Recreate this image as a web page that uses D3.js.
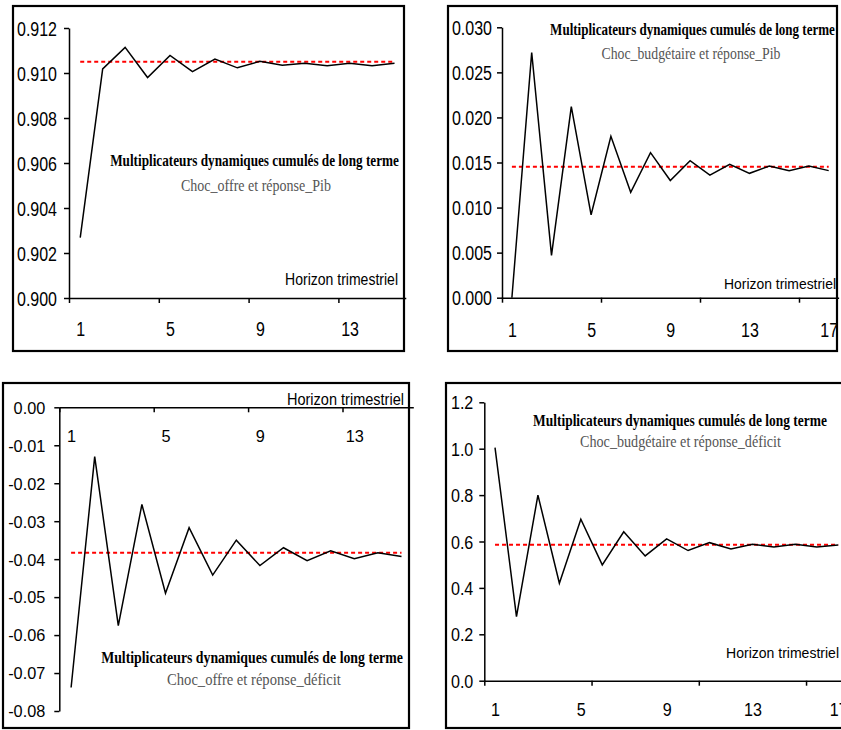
<!DOCTYPE html>
<html>
<head>
<meta charset="utf-8">
<script src="https://cdn.jsdelivr.net/npm/d3@7"></script>
<style>
  html, body { margin: 0; padding: 0; background: #fff; }
  svg { display: block; }
</style>
</head>
<body>
<svg id="chart" width="841" height="730"></svg>
<script>
// ---------------- DATA ----------------
const categories15 = [1, 2, 3, 4, 5, 6, 7, 8, 9, 10, 11, 12, 13, 14, 15];
const categories17 = [1, 2, 3, 4, 5, 6, 7, 8, 9, 10, 11, 12, 13, 14, 15, 16, 17];
const xLabels15 = [1, 5, 9, 13];
const xLabels17 = [1, 5, 9, 13, 17];
const xTickMarks15 = [0.5, 4.5, 8.5, 12.5];
const xTickMarks17 = [0.5, 5.5, 10.5, 15.5];

// Choc_offre et réponse_Pib
const pibOffre = [0.90268, 0.91018, 0.91114, 0.90980, 0.91078, 0.91006, 0.91062, 0.91023,
                  0.91052, 0.91034, 0.91043, 0.91032, 0.91043, 0.91032, 0.91043];
const pibOffreLT = 0.9105;
const yTicksPibOffre = [0.900, 0.902, 0.904, 0.906, 0.908, 0.910, 0.912];

// Choc_budgétaire et réponse_Pib
const pibBudget = [0.0000, 0.0272, 0.0047, 0.0212, 0.0092, 0.0179, 0.0117, 0.0161, 0.0130,
                   0.0152, 0.0136, 0.0148, 0.0138, 0.0146, 0.0141, 0.0146, 0.0141];
const pibBudgetLT = 0.01454;
const yTicksPibBudget = [0.000, 0.005, 0.010, 0.015, 0.020, 0.025, 0.030];

// Choc_offre et réponse_déficit
const defOffre = [-0.0738, -0.0130, -0.0575, -0.0256, -0.0490, -0.0317, -0.0442, -0.0350,
                  -0.0417, -0.0370, -0.0404, -0.0378, -0.0399, -0.0383, -0.0393];
const defOffreLT = -0.0383;
const yTicksDefOffre = [0.00, -0.01, -0.02, -0.03, -0.04, -0.05, -0.06, -0.07, -0.08];

// Choc_budgétaire et réponse_déficit
const defBudget = [1.005, 0.276, 0.800, 0.420, 0.696, 0.499, 0.642, 0.538, 0.611,
                   0.561, 0.595, 0.568, 0.588, 0.576, 0.588, 0.576, 0.585];
const defBudgetLT = 0.586;
const yTicksDefBudget = [0.0, 0.2, 0.4, 0.6, 0.8, 1.0, 1.2];

const titleText = "Multiplicateurs dynamiques cumulés de long terme";
const horizonText = "Horizon trimestriel";

// ---------------- LAYOUT / STYLE ----------------
const panels = [
  { cats: categories15, values: pibOffre, lt: pibOffreLT, yTicks: yTicksPibOffre, yDomain: [0.900, 0.912],
    xLabels: xLabels15, xMarks: xTickMarks15, dec: 3, sub: "Choc_offre et réponse_Pib",
    frame: [13, 6, 391, 345], left: 69, step: 22.45, yRange: [298, 28], axisY: 298, xLabelDy: 38,
    font: 19.5, sx: 0.82, gap: 12,
    title: { cx: 254.5, y: 165.5, w: 289 }, subt: { cx: 256, y: 190.5, w: 150 },
    hor: { right: 398, y: 285, w: 113, size: 17 } },
  { cats: categories17, values: pibBudget, lt: pibBudgetLT, yTicks: yTicksPibBudget, yDomain: [0, 0.030],
    xLabels: xLabels17, xMarks: xTickMarks17, dec: 3, sub: "Choc_budgétaire et réponse_Pib",
    frame: [448, 6, 389, 345], left: 502, step: 19.8, yRange: [297.7, 27.3], axisY: 297.7, xLabelDy: 39,
    font: 20, sx: 0.8, gap: 10,
    title: { cx: 692.5, y: 35, w: 285 }, subt: { cx: 691, y: 59.3, w: 179 },
    hor: { right: 836, y: 288.5, w: 112, size: 15.4 } },
  { cats: categories15, values: defOffre, lt: defOffreLT, yTicks: yTicksDefOffre, yDomain: [-0.08, 0],
    xLabels: xLabels15, xMarks: xTickMarks15, dec: 2, sub: "Choc_offre et réponse_déficit",
    frame: [3, 383, 406, 345], left: 59.3, step: 23.6, yRange: [711, 407.3], axisY: 407.3, xLabelDy: 35,
    font: 16.3, sx: 1.0, gap: 14,
    title: { cx: 252, y: 663, w: 302 }, subt: { cx: 254, y: 685, w: 174 },
    hor: { right: 404, y: 405, w: 117, size: 16.3 } },
  { cats: categories17, values: defBudget, lt: defBudgetLT, yTicks: yTicksDefBudget, yDomain: [0, 1.2],
    xLabels: xLabels17, xMarks: xTickMarks17, dec: 1, sub: "Choc_budgétaire et réponse_déficit",
    frame: [446, 383, 420, 345], left: 484.3, step: 21.45, yRange: [680.7, 402.3], axisY: 680.7, xLabelDy: 35,
    font: 18.5, sx: 0.87, gap: 11,
    title: { cx: 680, y: 425.7, w: 294 }, subt: { cx: 680.5, y: 447.3, w: 201 },
    hor: { right: 839, y: 657.7, w: 113, size: 15.4 } }
];

const svg = d3.select("#chart");
const SANS = "'Liberation Sans', Arial, sans-serif";
const SERIF = "'Liberation Serif', 'Times New Roman', serif";

function fitText(g, txt, x, y, anchor, width, font, size, weight, color) {
  const t = g.append("text")
    .attr("x", 0).attr("y", 0)
    .attr("text-anchor", anchor)
    .attr("font-family", font)
    .attr("font-size", size)
    .attr("font-weight", weight)
    .attr("fill", color)
    .text(txt);
  const w = t.node().getComputedTextLength();
  const s = w > 0 ? width / w : 1;
  t.attr("transform", `translate(${x},${y}) scale(${s},1)`);
  return t;
}

panels.forEach(p => {
  const g = svg.append("g");
  const n = p.cats.length;
  const x = d3.scaleLinear().domain([0.5, n + 0.5]).range([p.left, p.left + n * p.step]);
  const y = d3.scaleLinear().domain(p.yDomain).range(p.yRange);

  // frame
  g.append("rect")
    .attr("x", p.frame[0]).attr("y", p.frame[1])
    .attr("width", p.frame[2]).attr("height", p.frame[3])
    .attr("fill", "none").attr("stroke", "#000").attr("stroke-width", 2.2);

  // y axis
  const yAxis = d3.axisLeft(y).tickValues(p.yTicks).tickSize(5).tickSizeOuter(0)
    .tickFormat(d => d.toFixed(p.dec));
  const ya = g.append("g").attr("transform", `translate(${p.left},0)`).call(yAxis);
  ya.select(".domain").attr("stroke-width", 1.5);
  ya.selectAll(".tick line").attr("stroke-width", 1.5);
  ya.selectAll(".tick text")
    .attr("font-family", SANS).attr("font-size", p.font).attr("fill", "#000")
    .attr("dy", null)
    .attr("x", -p.gap / p.sx)
    .attr("y", 0.36 * p.font)
    .attr("transform", `scale(${p.sx},1)`);

  // x axis line with boundary tick marks
  const xAxisMarks = d3.axisBottom(x).tickValues(p.xMarks).tickSize(5).tickSizeOuter(0).tickFormat("");
  const xa = g.append("g").attr("transform", `translate(0,${p.axisY})`).call(xAxisMarks);
  xa.select(".domain").attr("stroke-width", 1.5);
  xa.selectAll(".tick line").attr("stroke-width", 1.5);

  // x category labels at category centers
  const xAxisLabels = d3.axisBottom(x).tickValues(p.xLabels).tickSize(0).tickFormat(d => String(d));
  const xl = g.append("g").attr("transform", `translate(0,${p.axisY})`).call(xAxisLabels);
  xl.select(".domain").remove();
  xl.selectAll(".tick text")
    .attr("font-family", SANS).attr("font-size", p.font).attr("fill", "#000")
    .attr("dy", null).attr("y", p.xLabelDy).attr("x", 0)
    .attr("transform", `scale(${p.sx},1)`);

  // long-term reference (red dashed)
  g.append("line")
    .attr("x1", x(p.cats[0])).attr("x2", x(p.cats[n - 1]))
    .attr("y1", y(p.lt)).attr("y2", y(p.lt))
    .attr("stroke", "#ff0000").attr("stroke-width", 2)
    .attr("stroke-dasharray", "4,3");

  // response line
  const line = d3.line().x((d, i) => x(p.cats[i])).y(d => y(d));
  g.append("path").datum(p.values)
    .attr("d", line)
    .attr("fill", "none").attr("stroke", "#000").attr("stroke-width", 1.5)
    .attr("stroke-linejoin", "miter");

  // texts
  fitText(g, titleText, p.title.cx, p.title.y, "middle", p.title.w, SERIF, 16.5, "bold", "#000");
  fitText(g, p.sub, p.subt.cx, p.subt.y, "middle", p.subt.w, SERIF, 17, "normal", "#555");
  fitText(g, horizonText, p.hor.right, p.hor.y, "end", p.hor.w, SANS, p.hor.size, "normal", "#000");
});
</script>
</body>
</html>
